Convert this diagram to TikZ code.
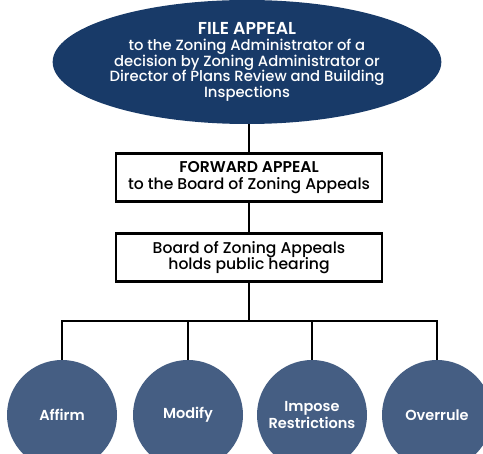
\documentclass[tikz,border=0pt]{standalone}
\usepackage{fontspec}
\setmainfont{Poppins}[UprightFont={* Medium}, BoldFont={* SemiBold}]
\usetikzlibrary{shapes.geometric}
\definecolor{navy}{RGB}{24,58,104}
\definecolor{slate}{RGB}{69,94,131}
\tikzset{
  conn/.style={line width=2.8pt, black},
  topell/.style={ellipse, fill=navy, minimum width=342pt, minimum height=124pt, inner sep=0pt, text=white, align=center, font=\fontsize{14.8}{15.8}\selectfont},
  stepbox/.style={draw=black, line width=2.8pt, fill=white, minimum width=266pt, minimum height=48pt, inner sep=0pt, align=center, font=\fontsize{15.6}{16.5}\selectfont},
  outcome/.style={circle, fill=slate, minimum size=110pt, inner sep=0pt, text=white, align=center, font=\bfseries\fontsize{14.5}{16.5}\selectfont}
}
\begin{document}
\begin{tikzpicture}[x=1pt,y=-1pt]
\useasboundingbox (0,0) rectangle (483,454);
\node[topell] (file) at (247,62) {{\bfseries\fontsize{17.3}{15.8}\selectfont FILE APPEAL}\\to the Zoning Administrator of a\\decision by Zoning Administrator or\\Director of Plans Review and Building\\Inspections};
\node[stepbox] (fwd) at (249,177.5) {{\bfseries FORWARD APPEAL}\\to the Board of Zoning Appeals};
\node[stepbox] (bza) at (249,257.5) {Board of Zoning Appeals\\holds public hearing};
\coordinate (hub) at (249,321);
\node[outcome] (affirm) at (62,415) {Affirm};
\node[outcome] (modify) at (188,415) {Modify};
\node[outcome] (impose) at (312,415) {Impose\\Restrictions};
\node[outcome] (overrule) at (437,415) {Overrule};
\draw[conn] (file.south -| fwd.north) -- (fwd.north);
\draw[conn] (fwd) -- (bza);
\draw[conn] (bza.south) -- (hub);
\draw[conn] (affirm.north) |- (hub) -| (overrule.north);
\draw[conn] (modify.north) -- (modify.north |- hub);
\draw[conn] (impose.north) -- (impose.north |- hub);
\end{tikzpicture}
\end{document}
